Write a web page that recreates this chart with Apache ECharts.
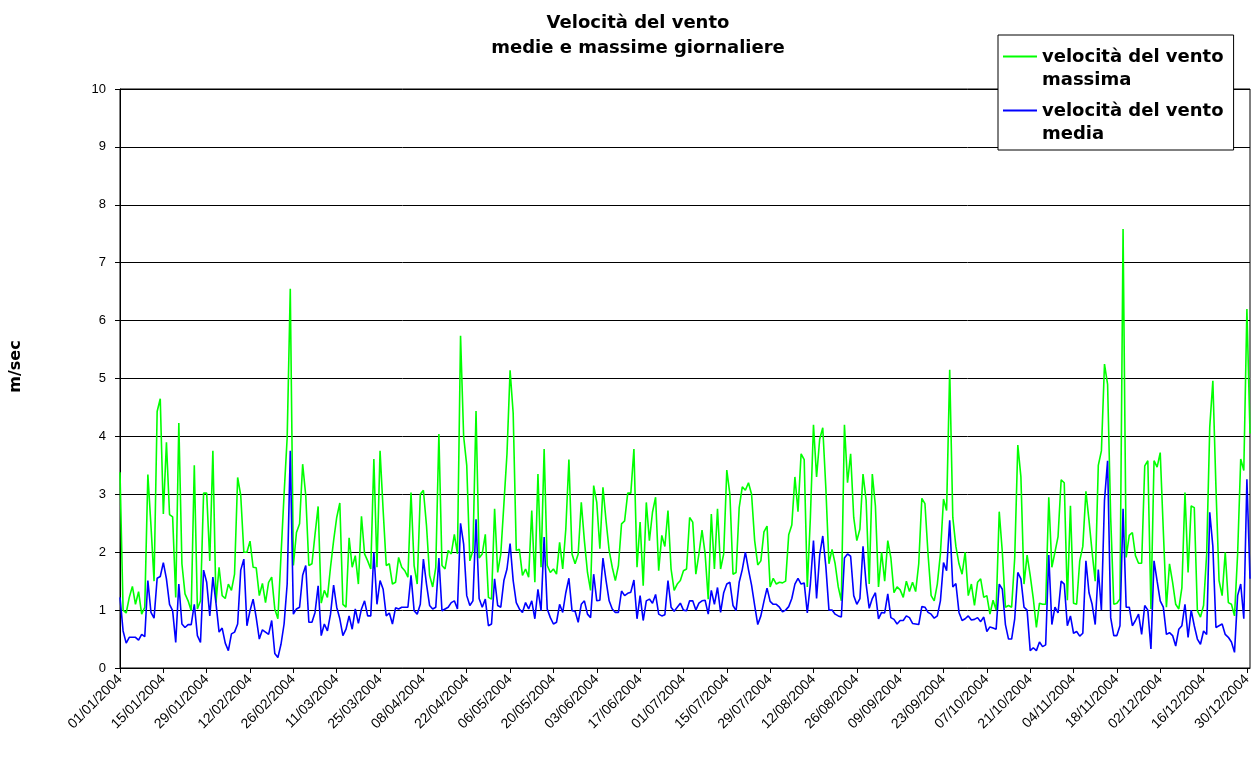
<!DOCTYPE html>
<html>
<head>
<meta charset="utf-8">
<title>Velocità del vento</title>
<script src="https://cdn.jsdelivr.net/npm/echarts@6/dist/echarts.min.js"></script>
<style>
html,body{margin:0;padding:0;background:#fff}
#chart{width:1257px;height:760px}
</style>
</head>
<body>
<div id="chart"></div>
<script>
// velocità massima giornaliera (m/sec), 01/01/2004 - 31/12/2004
var massima = [
 3.38,1.0,0.95,1.22,1.41,1.1,1.32,0.93,1.05,3.34,2.46,1.5,4.43,4.65,2.66,3.9,2.65,2.61,1.22,4.23,1.8,1.28,1.16,0.99,3.5,1.02,1.16,3.02,3.02,1.85,
 3.75,1.13,1.74,1.25,1.2,1.45,1.34,1.62,3.29,2.98,2.0,2.0,2.19,1.74,1.73,1.25,1.46,1.13,1.48,1.57,1.02,0.85,1.94,3.0,3.98,6.55,1.77,2.34,2.49,3.52,
 2.98,1.77,1.8,2.31,2.79,1.12,1.34,1.22,1.74,2.2,2.6,2.85,1.1,1.05,2.25,1.74,1.94,1.45,2.62,1.97,1.85,1.71,3.61,1.74,3.75,2.72,1.77,1.8,1.45,
 1.48,1.91,1.74,1.68,1.57,3.03,1.77,1.45,3.0,3.07,2.46,1.6,1.4,1.74,4.04,1.77,1.71,2.03,1.97,2.31,1.97,5.74,4.0,3.5,1.85,2.03,4.44,1.9,1.97,
 2.31,1.22,1.19,2.75,1.65,1.97,2.83,3.7,5.14,4.4,2.03,2.05,1.6,1.71,1.57,2.72,1.48,3.35,1.74,3.78,1.77,1.65,1.71,1.62,2.17,1.71,2.4,3.6,1.97,
 1.8,1.97,2.86,2.2,1.65,1.34,3.15,2.86,2.06,3.12,2.54,2.03,1.74,1.51,1.77,2.49,2.54,3.02,3.02,3.78,1.74,2.52,1.42,2.86,2.2,2.69,2.95,1.68,2.29,
 2.1,2.72,1.71,1.34,1.45,1.51,1.68,1.71,2.6,2.52,1.62,1.97,2.38,1.97,1.19,2.66,1.71,2.75,1.71,1.97,3.42,3.0,1.62,1.65,2.77,3.13,3.07,3.2,3.0,
 2.2,1.78,1.85,2.35,2.45,1.4,1.55,1.45,1.48,1.47,1.5,2.3,2.47,3.3,2.7,3.7,3.6,1.4,2.6,4.2,3.3,3.95,4.15,3.1,1.8,2.05,1.8,1.4,1.16,4.2,
 3.2,3.7,2.6,2.2,2.4,3.35,2.9,1.45,3.35,2.8,1.4,2.0,1.5,2.2,1.9,1.3,1.4,1.35,1.22,1.5,1.32,1.48,1.32,1.8,2.93,2.84,1.97,
 1.25,1.16,1.45,1.97,2.92,2.72,5.15,2.6,2.1,1.8,1.62,2.0,1.25,1.45,1.08,1.48,1.54,1.22,1.25,0.93,1.17,1.0,2.7,2.0,1.05,1.08,1.05,1.9,3.85,3.3,
 1.45,1.95,1.6,1.2,0.7,1.12,1.1,1.1,2.95,1.74,2.0,2.27,3.25,3.2,1.17,2.8,1.12,1.1,1.85,2.1,3.05,2.55,2.0,1.5,3.5,3.75,
 5.25,4.9,2.6,1.1,1.12,1.19,7.58,1.91,2.29,2.34,1.94,1.81,1.81,3.49,3.58,1.02,3.58,3.47,3.72,2.37,1.05,1.8,1.48,1.1,1.02,1.39,3.03,1.65,2.8,2.77,0.99,0.88,
 1.08,1.97,4.16,4.96,3.12,1.51,1.25,2.0,1.13,1.1,0.9,1.97,3.61,3.41,6.2,4.05
];

// velocità media giornaliera (m/sec)
var media = [
 1.22,0.64,0.43,0.53,0.53,0.53,0.48,0.58,0.54,1.51,0.96,0.86,1.55,1.58,1.82,1.54,1.1,0.99,0.44,1.45,0.76,0.7,0.75,0.75,1.1,0.56,0.44,1.69,1.48,0.9,
 1.57,1.12,0.62,0.69,0.43,0.3,0.59,0.62,0.76,1.69,1.88,0.73,0.99,1.19,0.87,0.5,0.66,0.62,0.58,0.82,0.25,0.18,0.41,0.76,1.45,3.75,0.93,1.02,1.05,1.6,
 1.77,0.79,0.79,0.96,1.42,0.56,0.76,0.64,0.93,1.43,1.05,0.85,0.56,0.67,0.9,0.67,1.02,0.77,1.02,1.16,0.9,0.9,2.0,1.1,1.51,1.36,0.9,0.95,0.76,
 1.04,1.02,1.05,1.05,1.05,1.6,0.99,0.93,1.1,1.88,1.45,1.08,1.02,1.05,1.9,0.99,1.02,1.05,1.13,1.16,1.02,2.5,2.14,1.25,1.08,1.16,2.57,1.2,1.05,
 1.19,0.73,0.76,1.54,1.08,1.05,1.51,1.71,2.15,1.51,1.13,1.02,0.96,1.13,1.02,1.16,0.85,1.36,0.99,2.26,1.02,0.87,0.76,0.79,1.1,0.96,1.3,1.55,0.99,
 0.98,0.79,1.1,1.16,0.93,0.87,1.62,1.16,1.17,1.9,1.51,1.16,1.02,0.96,0.96,1.33,1.25,1.29,1.31,1.52,0.85,1.25,0.82,1.16,1.19,1.12,1.27,0.93,0.9,
 0.92,1.51,1.05,0.98,1.05,1.12,1.0,0.99,1.16,1.16,1.0,1.12,1.16,1.17,0.93,1.34,1.1,1.39,0.96,1.3,1.45,1.48,1.08,0.99,1.48,1.7,2.0,1.7,1.43,
 1.08,0.75,0.9,1.15,1.38,1.15,1.1,1.1,1.05,0.97,1.0,1.06,1.2,1.45,1.55,1.45,1.47,0.95,1.45,2.2,1.2,1.95,2.28,1.75,1.0,1.0,0.93,0.9,0.88,1.9,
 1.97,1.93,1.25,1.1,1.2,2.1,1.45,1.03,1.2,1.3,0.85,0.96,0.95,1.28,0.87,0.84,0.76,0.82,0.82,0.9,0.87,0.77,0.76,0.75,1.06,1.05,0.96,
 0.93,0.86,0.9,1.16,1.82,1.68,2.55,1.4,1.46,0.96,0.82,0.85,0.9,0.83,0.84,0.87,0.8,0.88,0.63,0.71,0.69,0.67,1.45,1.36,0.75,0.5,0.5,0.85,1.65,1.54,
 1.05,1.0,0.3,0.35,0.3,0.45,0.37,0.4,1.95,0.75,1.05,0.95,1.5,1.45,0.73,0.9,0.6,0.63,0.55,0.6,1.85,1.3,1.1,0.75,1.7,1.0,
 2.9,3.58,0.87,0.56,0.56,0.73,2.75,1.05,1.05,0.73,0.82,0.93,0.58,1.08,1.0,0.33,1.85,1.5,1.16,1.05,0.58,0.61,0.56,0.38,0.67,0.73,1.1,0.53,1.0,0.73,0.5,0.41,
 0.64,0.58,2.69,2.1,0.7,0.73,0.76,0.58,0.53,0.45,0.27,1.25,1.45,0.85,3.26,1.54
];

// giorni dell'anno 2004 (asse categorie)
var giorni = [];
for (var i = 0; i < massima.length; i++) {
    var d = new Date(2004, 0, 1 + i);
    var gg = ('0' + d.getDate()).slice(-2);
    var mm = ('0' + (d.getMonth() + 1)).slice(-2);
    giorni.push(gg + '/' + mm + '/' + d.getFullYear());
}

var yTicks = [0, 10, 1]; // min, max, intervallo

var font = 'DejaVu Sans, Verdana, sans-serif';
var fontAssi = 'Liberation Sans, Arial, sans-serif';
// linea del simbolo in legenda allineata alla prima riga del testo
var iconaLinea = 'path://M0,0 L34,0 L34,2 L0,2 Z M0,27 L34,27 L34,27.01 L0,27.01 Z';

var myChart = echarts.init(document.getElementById('chart'));
var option = {
    animation: false,
    backgroundColor: '#fff',
    title: {
        text: 'Velocità del vento\nmedie e massime giornaliere',
        left: 633,
        top: 6,
        textAlign: 'center',
        textStyle: {fontFamily: font, fontSize: 18, fontWeight: 'bold', color: '#000', lineHeight: 25}
    },
    legend: {
        orient: 'vertical',
        left: 998,
        top: 35,
        padding: [11, 10, 4, 5],
        itemGap: 8,
        itemWidth: 34,
        itemHeight: 27,
        backgroundColor: '#fff',
        borderColor: '#000',
        borderWidth: 1,
        textStyle: {fontFamily: font, fontSize: 18, fontWeight: 'bold', color: '#000', lineHeight: 23},
        data: [
            {name: 'velocità del vento\nmassima', icon: iconaLinea},
            {name: 'velocità del vento\nmedia', icon: iconaLinea}
        ]
    },
    grid: {
        left: 120, right: 7, top: 89, bottom: 92,
        show: true, borderColor: '#000', borderWidth: 1
    },
    xAxis: {
        type: 'category',
        data: giorni,
        boundaryGap: false,
        axisLine: {lineStyle: {color: '#000', width: 1}},
        axisTick: {interval: 13, length: 5, lineStyle: {color: '#000'}},
        axisLabel: {interval: 13, rotate: 45, margin: 9, fontFamily: fontAssi, fontSize: 14, color: '#000'},
        splitLine: {show: false}
    },
    yAxis: {
        type: 'value',
        min: yTicks[0], max: yTicks[1], interval: yTicks[2],
        name: 'm/sec',
        nameLocation: 'middle',
        nameRotate: 90,
        nameGap: 96,
        nameTextStyle: {fontFamily: font, fontSize: 16, fontWeight: 'bold', color: '#000', padding: [0, 0, 0, 24]},
        axisLine: {show: true, lineStyle: {color: '#000', width: 1}},
        axisTick: {show: true, length: 5, lineStyle: {color: '#000'}},
        axisLabel: {margin: 14, fontFamily: fontAssi, fontSize: 13, color: '#000'},
        splitLine: {show: true, lineStyle: {color: '#000', width: 1}}
    },
    series: [
        {
            name: 'velocità del vento\nmassima',
            type: 'line',
            data: massima,
            symbol: 'none',
            color: '#00ff00',
            lineStyle: {width: 1.6, color: '#00ff00'}
        },
        {
            name: 'velocità del vento\nmedia',
            type: 'line',
            data: media,
            symbol: 'none',
            color: '#0000ff',
            lineStyle: {width: 1.6, color: '#0000ff'}
        }
    ]
};
myChart.setOption(option);
</script>
</body>
</html>
